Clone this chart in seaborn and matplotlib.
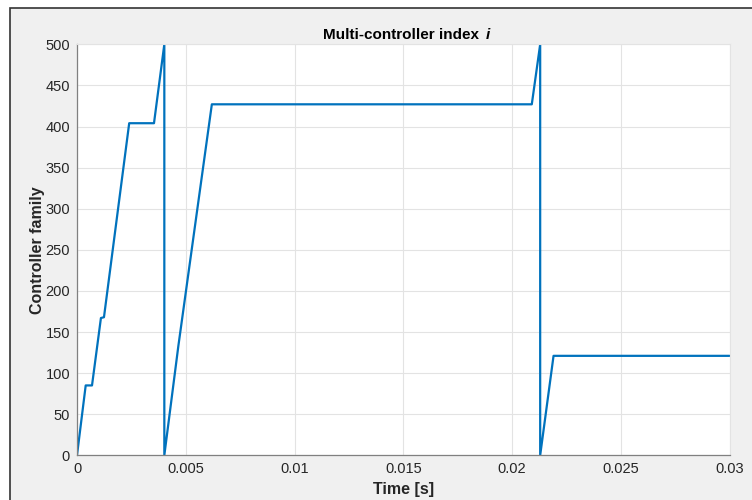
import matplotlib
matplotlib.use("Agg")
import matplotlib.pyplot as plt
import seaborn as sns
import pandas as pd
from matplotlib.patches import Rectangle

# data
time_s = [0.0, 0.0004, 0.00069, 0.0011, 0.00124, 0.0024, 0.00354, 0.004015,
          0.004015, 0.00466, 0.0062, 0.02091, 0.0212955, 0.0212955, 0.02191, 0.03]
family = [0, 85, 85, 167, 168, 404, 404, 500,
          0, 133, 427, 427, 500, 0, 121, 121]

x_ticks = [0, 0.005, 0.01, 0.015, 0.02, 0.025, 0.03]
x_tick_labels = ["0", "0.005", "0.01", "0.015", "0.02", "0.025", "0.03"]
y_ticks = list(range(0, 501, 50))

sns.set_style("white")
plt.rcParams['font.family'] = ['Liberation Sans', 'DejaVu Sans']

fig = plt.figure(figsize=(7.52, 5.0), dpi=100)
fig.patch.set_facecolor("white")
# gray MATLAB figure panel with dark border
fig.patches.append(Rectangle((10 / 752, -0.05), 1.1, 1 - 8 / 500 + 0.05,
                             transform=fig.transFigure, facecolor="#f0f0f0",
                             edgecolor="#333333", linewidth=1.2, zorder=-10))

ax = fig.add_axes([77 / 752, 1 - 455.3 / 500, (729.5 - 77) / 752, (455.3 - 44.3) / 500])
ax.set_facecolor("white")

df = pd.DataFrame({"t": time_s, "f": family})
sns.lineplot(data=df, x="t", y="f", sort=False, estimator=None, ax=ax,
             color="#0072BD", linewidth=1.6)

ax.set_xlim(0, 0.03)
ax.set_ylim(0, 500)
ax.set_xticks(x_ticks)
ax.set_xticklabels(x_tick_labels)
ax.set_yticks(y_ticks)
ax.grid(True, color="#e3e3e3", linewidth=0.8)
ax.set_axisbelow(True)
ax.tick_params(direction="in", length=4, width=0.8, colors="#808080",
               labelcolor="#262626", labelsize=10.5, pad=5)
for s in ["left", "bottom"]:
    ax.spines[s].set_color("#808080")
    ax.spines[s].set_linewidth(0.9)
for s in ["top", "right"]:
    ax.spines[s].set_color("#e3e3e3")
    ax.spines[s].set_linewidth(0.8)

ax.set_xlabel("Time [s]", fontsize=11.5, fontweight="bold", color="#262626", labelpad=4)
ax.set_ylabel("Controller family", fontsize=11.5, fontweight="bold", color="#262626", labelpad=0)
ax.set_title("Multi-controller index ", fontsize=11, fontweight="bold", color="black", pad=4)

fig.canvas.draw()
bb = ax.title.get_window_extent()
inv = fig.transFigure.inverted()
x1, y0 = inv.transform((bb.x1 + 2, bb.y0))
fig.text(x1, y0, "i", fontsize=11, fontweight="bold", fontstyle="italic",
         color="black", ha="left", va="bottom")

fig.savefig("out.png", dpi=100, facecolor=fig.get_facecolor())
